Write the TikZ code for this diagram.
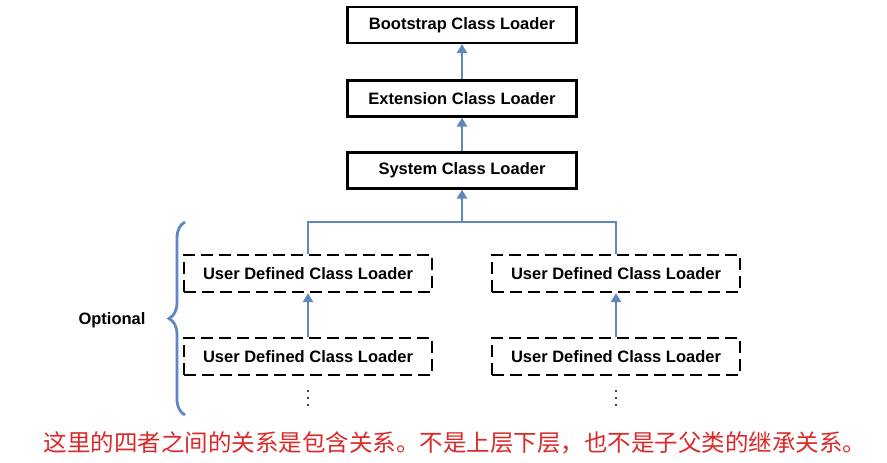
\documentclass[tikz,border=0pt]{standalone}
\usepackage{fontspec}
\setmainfont{Liberation Sans}
\newfontfamily\cjk{Noto Sans CJK SC}
\usetikzlibrary{arrows.meta,decorations.pathreplacing}
\definecolor{lb}{RGB}{96,135,190}
\definecolor{rd}{RGB}{220,40,40}
\begin{document}
\begin{tikzpicture}[x=1pt,y=-1pt,
  lbl/.style={font=\bfseries\fontsize{16.5}{18}\selectfont},
  solidbox/.style={lbl,draw=black,line width=2.2pt,minimum width=229pt,minimum height=36pt,inner sep=0pt},
  dashbox/.style={lbl,draw=black,line width=2.2pt,dash pattern=on 12pt off 6pt,minimum width=248pt,minimum height=37pt,inner sep=0pt},
  arr/.style={draw=lb,line width=2.8pt,-{Triangle[width=10pt,length=9pt]}},
  ln/.style={draw=lb,line width=2.8pt},
  dot/.style={circle,fill=black,inner sep=0pt,minimum size=2.4pt}]
\useasboundingbox (0,0) rectangle (887,463);
\node[solidbox] (boot) at (462,25) {Bootstrap Class Loader};
\node[solidbox] (ext) at (462,98.5) {Extension Class Loader};
\node[solidbox] (sys) at (462,170.5) {System Class Loader};
\node[dashbox] (u1) at (308,273.5) {User Defined Class Loader};
\node[dashbox] (u2) at (308,356.5) {User Defined Class Loader};
\node[dashbox] (u3) at (616,273.5) {User Defined Class Loader};
\node[dashbox] (u4) at (616,356.5) {User Defined Class Loader};
\draw[arr] (ext) -- (boot);
\draw[arr] (sys) -- (ext);
\coordinate (j) at (462,222);
\draw[arr] (j) -- (sys);
\draw[ln] (u1.north) |- (j) -| (u3.north);
\draw[arr] (u2) -- (u1);
\draw[arr] (u4) -- (u3);
\foreach \x in {308,616} \foreach \y in {391,398,405} \node[dot] at (\x,\y) {};
\draw[ln,decorate,decoration={brace,amplitude=16pt,aspect=0.5}] (185,415) -- (185,222);
\node[lbl] (opt) at (112,320) {Optional};
\node[font=\cjk\fontsize{23.5}{26}\selectfont,text=rd] (note) at (455,443) {这里的四者之间的关系是包含关系。不是上层下层，也不是子父类的继承关系。};
\end{tikzpicture}
\end{document}
